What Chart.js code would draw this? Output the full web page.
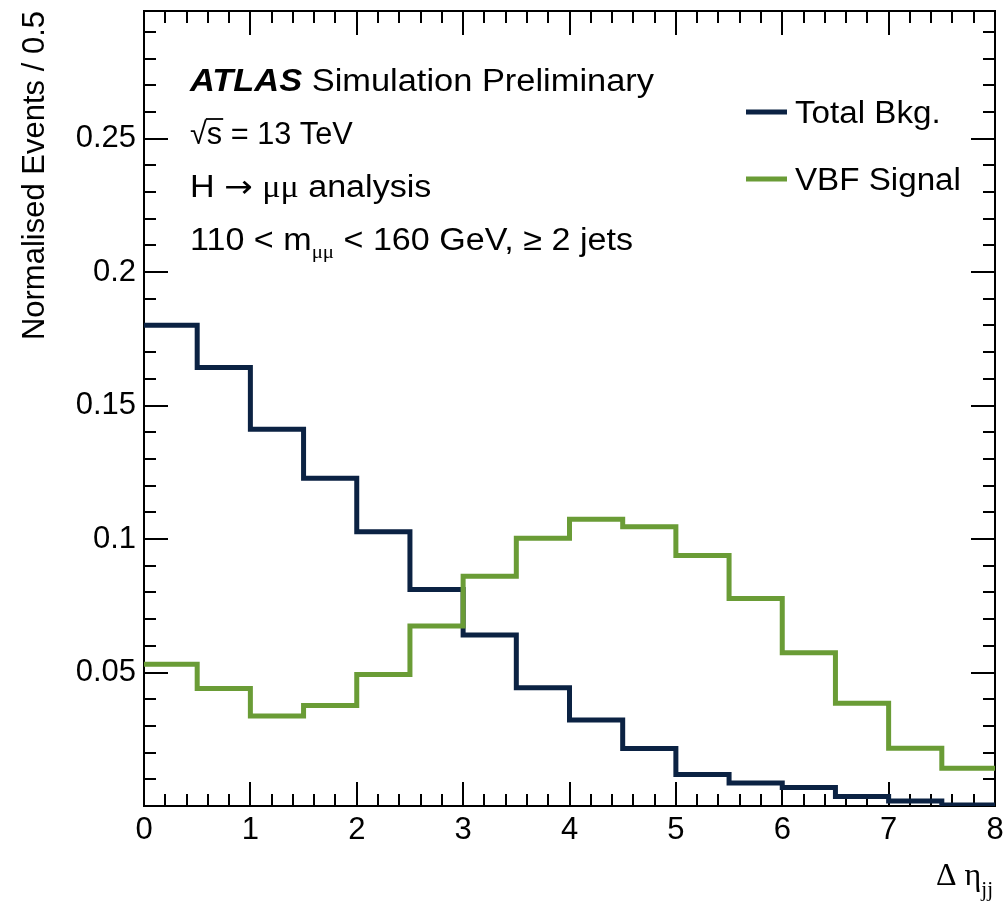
<!DOCTYPE html>
<html>
<head>
<meta charset="utf-8">
<title>VBF H→μμ: Δη_jj shape comparison</title>
<script src="https://cdn.jsdelivr.net/npm/chart.js@4.4.1/dist/chart.umd.min.js"></script>
<style>
  html, body { margin: 0; padding: 0; background: #ffffff; }
  #wrap { width: 1005px; height: 908px; }
  canvas { display: block; }
</style>
</head>
<body>
<div id="wrap"><canvas id="chart" width="1005" height="908"></canvas></div>
<script>
// Bin edges in Δη_jj (bin width 0.5)
const binEdges = [0, 0.5, 1, 1.5, 2, 2.5, 3, 3.5, 4, 4.5, 5, 5.5, 6, 6.5, 7, 7.5, 8];

// Normalised event fractions per bin
const totalBkg = [0.1801, 0.1643, 0.1411, 0.1228, 0.1027, 0.0811, 0.0641, 0.0443, 0.0322,
                  0.0215, 0.0118, 0.0086, 0.0069, 0.0036, 0.0019, 0.0004];
const vbfSignal = [0.0531, 0.0440, 0.0337, 0.0376, 0.0493, 0.0674, 0.0861, 0.1003, 0.1074,
                   0.1046, 0.0938, 0.0777, 0.0574, 0.0385, 0.0216, 0.0141];

const seriesLabels = ['Total Bkg.', 'VBF Signal'];
const seriesColors = ['#0b2243', '#6a9c36'];

// Axis ticks
const xTickValues = [0, 1, 2, 3, 4, 5, 6, 7, 8];
const xTickLabels = ['0', '1', '2', '3', '4', '5', '6', '7', '8'];
const yTickValues = [0.05, 0.1, 0.15, 0.2, 0.25];
const yTickLabels = ['0.05', '0.1', '0.15', '0.2', '0.25'];

const X_MIN = 0, X_MAX = 8;
const Y_MIN = 0, Y_MAX = 0.2978;

const SANS = '"Liberation Sans", Arial, Helvetica, sans-serif';
const SERIF = '"Liberation Serif", "DejaVu Serif", serif';
const SYMBOL = '"DejaVu Sans", sans-serif';

// Histogram contents → stepped line points (last bin repeated at the upper edge)
function histPoints(values) {
  return binEdges.map((x, i) => ({ x: x, y: values[Math.min(i, values.length - 1)] }));
}

// Draw a sequence of text runs (mixed fonts / sub-scripts), optionally stretched in x
function drawRuns(ctx, x, y, runs, sx) {
  ctx.save();
  ctx.translate(x, y);
  ctx.scale(sx || 1, 1);
  ctx.textBaseline = 'alphabetic';
  ctx.textAlign = 'left';
  ctx.fillStyle = '#000';
  let cx = 0;
  for (const r of runs) {
    ctx.font = r.font;
    const w = ctx.measureText(r.text).width;
    ctx.fillText(r.text, cx, r.dy || 0);
    if (r.overline) {
      ctx.strokeStyle = '#000';
      ctx.lineWidth = 1.8;
      ctx.beginPath();
      ctx.moveTo(cx - 1, r.overline);
      ctx.lineTo(cx + w + 1, r.overline);
      ctx.stroke();
    }
    cx += w;
  }
  ctx.restore();
  return cx * (sx || 1);
}

function runsWidth(ctx, runs) {
  let w = 0;
  ctx.save();
  for (const r of runs) { ctx.font = r.font; w += ctx.measureText(r.text).width; }
  ctx.restore();
  return w;
}

// Frame plus inward major/minor ticks on all four sides
const framePlugin = {
  id: 'rootFrame',
  beforeDatasetsDraw(chart) {
    const { ctx, chartArea: a, scales: { x, y } } = chart;
    ctx.save();
    ctx.strokeStyle = '#000';
    ctx.lineWidth = 2;
    ctx.lineCap = 'butt';
    ctx.beginPath();
    // x ticks: major every 1, minor every 0.2
    for (let k = 0; k <= 40; k++) {
      const v = X_MIN + k * 0.2;
      const px = Math.round(x.getPixelForValue(v));
      const len = (k % 5 === 0) ? 24 : 12;
      ctx.moveTo(px, a.bottom); ctx.lineTo(px, a.bottom - len);
      ctx.moveTo(px, a.top); ctx.lineTo(px, a.top + len);
    }
    // y ticks: major every 0.05, minor every 0.01
    for (let k = 0; k * 0.01 <= Y_MAX + 1e-9; k++) {
      const v = k * 0.01;
      const py = Math.round(y.getPixelForValue(v));
      const len = (k % 5 === 0) ? 24 : 12;
      ctx.moveTo(a.left, py); ctx.lineTo(a.left + len, py);
      ctx.moveTo(a.right, py); ctx.lineTo(a.right - len, py);
    }
    ctx.stroke();
    ctx.strokeRect(a.left, a.top, a.right - a.left, a.bottom - a.top);
    ctx.restore();
  }
};

// Legend, analysis labels and the x-axis title
const labelsPlugin = {
  id: 'rootLabels',
  afterDraw(chart) {
    const { ctx, chartArea: a } = chart;
    const f = 31;
    const L = 190;

    drawRuns(ctx, L, 91, [
      { text: 'ATLAS', font: `italic bold ${f}px ${SANS}` },
      { text: ' Simulation Preliminary', font: `${f}px ${SANS}` }
    ], 1.11);

    drawRuns(ctx, L, 144, [
      { text: '\u221A', font: `${f}px ${SANS}` },
      { text: 's', font: `${f}px ${SANS}`, overline: -25 },
      { text: ' = 13 TeV', font: `${f}px ${SANS}` }
    ], 0.99);

    drawRuns(ctx, L, 197, [
      { text: 'H ', font: `${f}px ${SANS}` },
      { text: '\u2192', font: `${f}px ${SYMBOL}` },
      { text: ' ', font: `${f}px ${SANS}` },
      { text: '\u03BC\u03BC', font: `${f}px ${SERIF}` },
      { text: ' analysis', font: `${f}px ${SANS}` }
    ], 1.1);

    drawRuns(ctx, L, 250, [
      { text: '110 < m', font: `${f}px ${SANS}` },
      { text: '\u03BC\u03BC', font: `19px ${SERIF}`, dy: 8 },
      { text: ' < 160 GeV, \u2265 2 jets', font: `${f}px ${SANS}` }
    ], 1.1);

    // Legend
    const legendRows = [112, 179];
    chart.data.datasets.forEach((ds, i) => {
      const yy = legendRows[i];
      ctx.save();
      ctx.strokeStyle = ds.borderColor;
      ctx.lineWidth = 5;
      ctx.beginPath();
      ctx.moveTo(746, yy); ctx.lineTo(787, yy);
      ctx.stroke();
      ctx.restore();
      drawRuns(ctx, 795, yy + 11, [{ text: ds.label, font: `${f}px ${SANS}` }], 1.07);
    });

    // x-axis title: Δ η_jj, right-aligned to the frame
    const titleRuns = [
      { text: '\u0394 \u03B7', font: `32px ${SERIF}` },
      { text: 'jj', font: `21px ${SERIF}`, dy: 11 }
    ];
    const tw = runsWidth(ctx, titleRuns);
    drawRuns(ctx, a.right - tw - 2, 885, titleRuns, 1);
  }
};

const ctxEl = document.getElementById('chart');
new Chart(ctxEl, {
  type: 'line',
  data: {
    datasets: [
      {
        label: seriesLabels[0],
        data: histPoints(totalBkg),
        borderColor: seriesColors[0],
        backgroundColor: seriesColors[0],
        borderWidth: 5,
        stepped: true,
        fill: false,
        pointRadius: 0,
        borderJoinStyle: 'miter',
        borderCapStyle: 'butt',
        order: 1
      },
      {
        label: seriesLabels[1],
        data: histPoints(vbfSignal),
        borderColor: seriesColors[1],
        backgroundColor: seriesColors[1],
        borderWidth: 5,
        stepped: true,
        fill: false,
        pointRadius: 0,
        borderJoinStyle: 'miter',
        borderCapStyle: 'butt',
        order: 0
      }
    ]
  },
  options: {
    responsive: false,
    animation: false,
    devicePixelRatio: 1,
    layout: { padding: { top: 11, right: 10, left: 0, bottom: 0 } },
    plugins: {
      legend: { display: false },
      tooltip: { enabled: false }
    },
    scales: {
      x: {
        type: 'linear',
        min: X_MIN,
        max: X_MAX,
        grid: { display: false, drawTicks: false },
        border: { display: false },
        afterBuildTicks: (s) => { s.ticks = xTickValues.map(v => ({ value: v })); },
        afterFit: (s) => { s.height = 102; s.paddingLeft = 0; s.paddingRight = 0; },
        ticks: {
          autoSkip: false,
          maxRotation: 0,
          padding: 6,
          color: '#000',
          font: { family: SANS, size: 31 },
          callback: (v, i) => xTickLabels[i]
        }
      },
      y: {
        type: 'linear',
        min: Y_MIN,
        max: Y_MAX,
        grid: { display: false, drawTicks: false },
        border: { display: false },
        afterBuildTicks: (s) => { s.ticks = yTickValues.map(v => ({ value: v })); },
        afterFit: (s) => { s.width = 144; s.paddingTop = 0; s.paddingBottom = 0; },
        ticks: {
          autoSkip: false,
          padding: 8,
          color: '#000',
          font: { family: SANS, size: 31 },
          callback: (v, i) => yTickLabels[i]
        },
        title: {
          display: true,
          text: 'Normalised Events / 0.5',
          align: 'end',
          color: '#000',
          font: { family: SANS, size: 31 },
          padding: { top: 17, bottom: 0 }
        }
      }
    }
  },
  plugins: [framePlugin, labelsPlugin]
});
</script>
</body>
</html>
